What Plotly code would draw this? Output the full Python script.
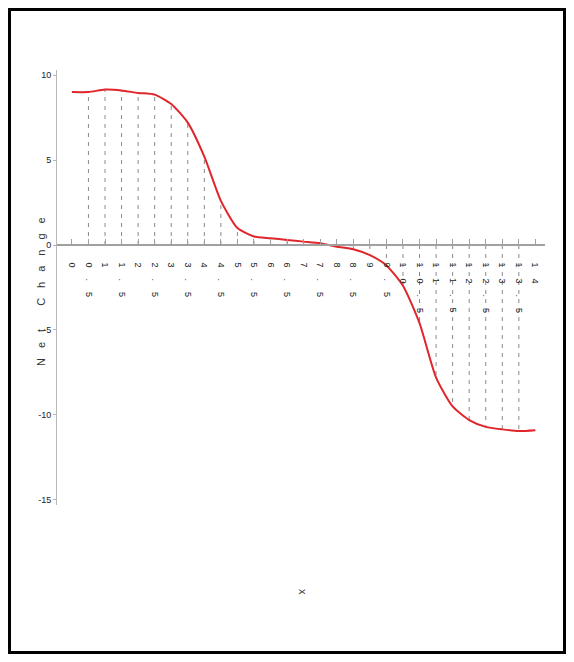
import plotly.graph_objects as go

# ---- data ----
x_vals = [0, 0.5, 1, 1.5, 2, 2.5, 3, 3.5, 4, 4.5, 5, 5.5, 6, 6.5, 7, 7.5,
          8, 8.5, 9, 9.5, 10, 10.5, 11, 11.5, 12, 12.5, 13, 13.5, 14]
x_labels = ["0", "0.5", "1", "1.5", "2", "2.5", "3", "3.5", "4", "4.5", "5",
            "5.5", "6", "6.5", "7", "7.5", "8", "8.5", "9", "9.5", "10",
            "10.5", "11", "11.5", "12", "12.5", "13", "13.5", "14"]
net_change = [9.0, 9.0, 9.15, 9.1, 8.95, 8.85, 8.3, 7.2, 5.2, 2.6, 1.0, 0.5,
              0.4, 0.3, 0.2, 0.1, -0.1, -0.25, -0.6, -1.2, -2.4, -4.6, -7.8,
              -9.5, -10.3, -10.7, -10.85, -10.95, -10.9]
y_ticks = [10, 5, 0, -5, -10, -15]
y_tick_labels = ["10", "5", "0", "-5", "-10", "-15"]
y_title = "Net Change"
x_title = "x"

# ---- layout geometry (page pixels; the page body adds an 8px margin) ----
OFF = 8
W, H = 574 - 2 * OFF, 662 - 2 * OFF
plot_left, plot_right, plot_top, plot_bottom = 57, 545, 70, 505
L = plot_left - OFF
R = W - (plot_right - OFF)
T = plot_top - OFF
B = H - (plot_bottom - OFF)
y_range = [-15.3, 10.3]
x_range = [-0.45, 14.29]
pw, ph = plot_right - plot_left, plot_bottom - plot_top


def px_to_paper_x(px):
    return (px - plot_left) / pw


def py_to_paper_y(py):
    return (plot_bottom - py) / ph


fig = go.Figure()

# dashed drop lines from the curve to zero (inner categories)
dx, dy = [], []
for xv, yv in zip(x_vals[1:-1], net_change[1:-1]):
    dx += [xv, xv, None]
    dy += [0, yv, None]
fig.add_trace(go.Scatter(x=dx, y=dy, mode="lines",
                         line=dict(color="#8a8a8a", width=1, dash="4px,5px"),
                         hoverinfo="skip", showlegend=False))

# main curve
fig.add_trace(go.Scatter(x=x_vals, y=net_change, mode="lines",
                         line=dict(color="#e0262b", width=2, shape="spline",
                                   smoothing=0.6),
                         showlegend=False))

spaced = '<span style="letter-spacing:11px">{}</span>'
fig.update_layout(
    width=W, height=H,
    margin=dict(l=L, r=R, t=T, b=B),
    paper_bgcolor="white", plot_bgcolor="white",
    font=dict(family="Liberation Sans, Arial", color="#333"),
    xaxis=dict(range=x_range, anchor="free",
               position=(0 - y_range[0]) / (y_range[1] - y_range[0]),
               showline=True, linecolor="#a0a0a0", linewidth=1.5,
               ticks="inside", ticklen=5, tickcolor="#a0a0a0",
               tickvals=x_vals,
               ticktext=[spaced.format(t) for t in x_labels],
               tickangle=90, tickfont=dict(size=9, color="#222"),
               ticklabelstandoff=15,
               showgrid=False, zeroline=False),
    yaxis=dict(range=y_range, showline=True, linecolor="#b8b8b8",
               linewidth=1, ticks="outside", ticklen=3, tickcolor="#b8b8b8",
               tickvals=y_ticks, ticktext=y_tick_labels,
               tickfont=dict(size=9, color="#222"),
               showgrid=False, zeroline=False),
    annotations=[
        dict(text='<span style="letter-spacing:10px">%s</span>' % y_title,
             x=px_to_paper_x(33), y=py_to_paper_y(287),
             xref="paper", yref="paper", textangle=-90, showarrow=False,
             font=dict(size=11, color="#333")),
        dict(text=x_title, x=px_to_paper_x(303), y=py_to_paper_y(597),
             xref="paper", yref="paper", textangle=90, showarrow=False,
             font=dict(size=11, color="#333")),
    ],
    shapes=[dict(type="rect", xref="paper", yref="paper",
                 x0=px_to_paper_x(9.5), x1=px_to_paper_x(564.5),
                 y0=py_to_paper_y(652.5), y1=py_to_paper_y(9.5),
                 line=dict(color="black", width=3))],
)

fig.write_html("out.html")
